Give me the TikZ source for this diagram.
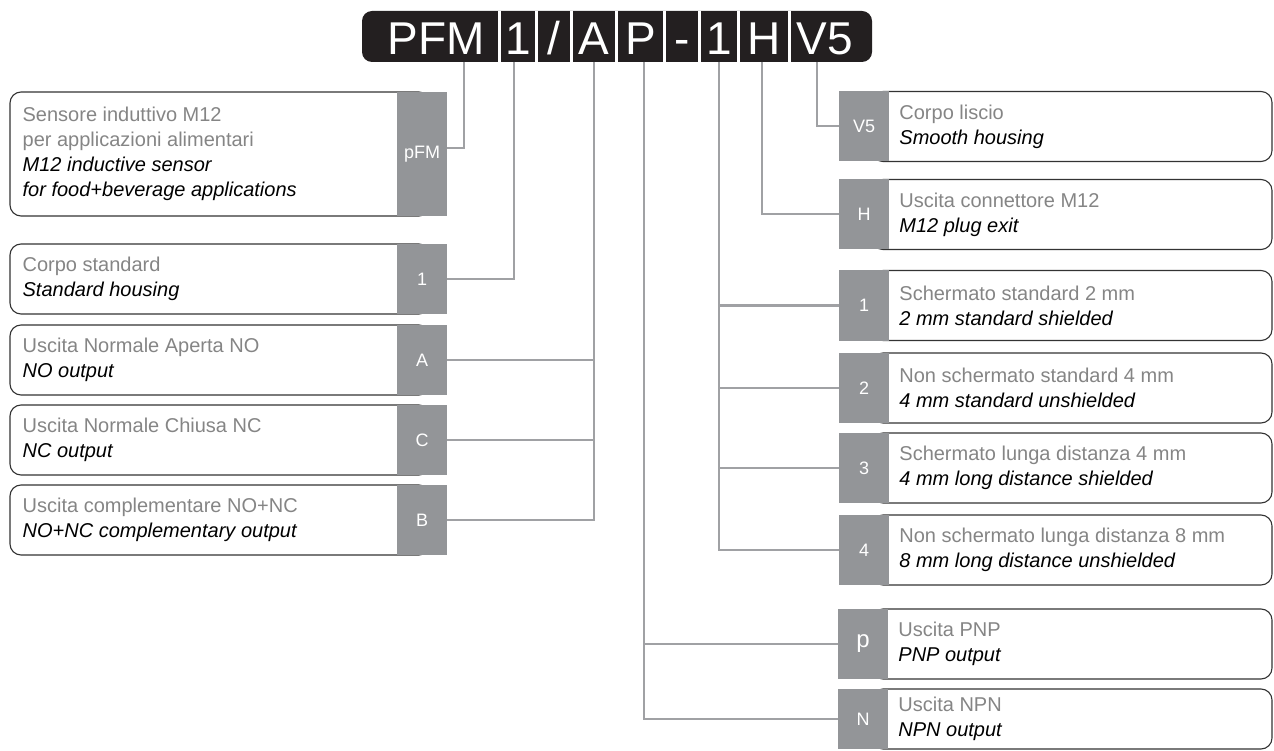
\documentclass[tikz,border=0pt]{standalone}
\usepackage{fontspec}
\setmainfont{Liberation Sans}
\usetikzlibrary{positioning}
\definecolor{tabgray}{HTML}{939598}
\definecolor{linegray}{HTML}{A0A1A4}
\definecolor{txtgray}{HTML}{858585}
\definecolor{codeblack}{HTML}{231F20}
\begin{document}
\begin{tikzpicture}
  [x=1pt,y=-1pt,
  code/.style={anchor=base,text=white,inner sep=0pt,font=\fontsize{46}{46}\selectfont},
  sep/.style={white,line width=2.5pt},
  lbox/.style={draw=black!80,line width=1.1pt,rounded corners=11pt,minimum width=420pt,minimum height=70pt,inner sep=0pt},
  rbox/.style={draw=black!80,line width=1.1pt,rounded corners=11pt,minimum width=400pt,minimum height=70pt,inner sep=0pt},
  tab/.style={fill=tabgray,text=white,minimum width=50pt,minimum height=70pt,inner sep=0pt,font=\fontsize{18}{18}\selectfont},
  desc/.style={align=left,inner sep=0pt,font=\fontsize{20}{25}\selectfont},
  conn/.style={linegray,line width=2pt}]

  \useasboundingbox (0,0) rectangle (1274,751);

  % code strip
  \node (code) [fill=codeblack,rounded corners=10pt,minimum width=510pt,minimum height=51pt,inner sep=0pt] at (617,36.5) {};
  \foreach \x in {499.5,536.5,571.5,616.5,664.5,699.5,738.5,789.5}
    \draw [sep] (\x,0 |- code.north) -- (\x,0 |- code.south);

  \node (hPFM) [code] at (436,55) {PFM};
  \node (hOne) [code] at (518,55) {1};
  \node (hSlash) [code] at (554,55) {/};
  \node (hA) [code] at (594,55) {A};
  \node (hP) [code] at (640.5,55) {P};
  \node (hDash) [code] at (682,55) {-};
  \node (hOneB) [code] at (719,55) {1};
  \node (hH) [code] at (764,55) {H};
  \node (hV) [code] at (825,55) {V5};

  \coordinate (cPFM) at (464,62);
  \coordinate (cOne) at (514,62);
  \coordinate (cA) at (594,62);
  \coordinate (cP) at (644,62);
  \coordinate (cOneB) at (719,62);
  \coordinate (cH) at (762,62);
  \coordinate (cV) at (817,62);

  % left column
  \node (lPFM) [lbox,minimum height=124pt] at (220,154) {};
  \node (tPFM) [tab,minimum height=124pt] at (422,154) {pFM};
  \node (dPFM) [desc,right=13pt of lPFM.west] {{\color{txtgray}Sensore induttivo M12}\\{\color{txtgray}per applicazioni alimentari}\\\textit{M12 inductive sensor}\\\textit{for food+beverage applications}};

  \node (lOne) [lbox] at (220,279) {};
  \node (tOne) [tab] at (422,279) {1};
  \node (dOne) [desc,right=13pt of lOne.west] {{\color{txtgray}Corpo standard}\\\textit{Standard housing}};

  \node (lA) [lbox] at (220,360) {};
  \node (tA) [tab] at (422,360) {A};
  \node (dA) [desc,right=13pt of lA.west] {{\color{txtgray}Uscita Normale Aperta NO}\\\textit{NO output}};

  \node (lC) [lbox] at (220,440) {};
  \node (tC) [tab] at (422,440) {C};
  \node (dC) [desc,right=13pt of lC.west] {{\color{txtgray}Uscita Normale Chiusa NC}\\\textit{NC output}};

  \node (lB) [lbox] at (220,520) {};
  \node (tB) [tab] at (422,520) {B};
  \node (dB) [desc,right=13pt of lB.west] {{\color{txtgray}Uscita complementare NO+NC}\\\textit{NO+NC complementary output}};

  % right column
  \node (rV) [rbox] at (1072,126.5) {};
  \node (tV) [tab] at (864,126.5) {V5};
  \node (dV) [desc,right=10pt of tV] {{\color{txtgray}Corpo liscio}\\\textit{Smooth housing}};

  \node (rH) [rbox] at (1072,214.5) {};
  \node (tH) [tab] at (864,214.5) {H};
  \node (dH) [desc,right=10pt of tH] {{\color{txtgray}Uscita connettore M12}\\\textit{M12 plug exit}};

  \node (rS1) [rbox] at (1072,305.5) {};
  \node (tS1) [tab] at (864,305.5) {1};
  \node (dS1) [desc,right=10pt of tS1] {{\color{txtgray}Schermato standard 2 mm}\\\textit{2 mm standard shielded}};

  \node (rS2) [rbox] at (1072,388) {};
  \node (tS2) [tab] at (864,388) {2};
  \node (dS2) [desc,right=10pt of tS2] {{\color{txtgray}Non schermato standard 4 mm}\\\textit{4 mm standard unshielded}};

  \node (rS3) [rbox] at (1072,468) {};
  \node (tS3) [tab] at (864,468) {3};
  \node (dS3) [desc,right=10pt of tS3] {{\color{txtgray}Schermato lunga distanza 4 mm}\\\textit{4 mm long distance shielded}};

  \node (rS4) [rbox] at (1072,550) {};
  \node (tS4) [tab] at (864,550) {4};
  \node (dS4) [desc,right=10pt of tS4] {{\color{txtgray}Non schermato lunga distanza 8 mm}\\\textit{8 mm long distance unshielded}};

  \node (rP) [rbox] at (1072,644) {};
  \node (tP) [tab,font=\fontsize{24}{24}\selectfont] at (863,644) {p};
  \node (dP) [desc,right=10pt of tP] {{\color{txtgray}Uscita PNP}\\\textit{PNP output}};

  \node (rN) [rbox,minimum height=60pt] at (1072,719) {};
  \node (tN) [tab,minimum height=60pt] at (863,719) {N};
  \node (dN) [desc,right=10pt of tN] {{\color{txtgray}Uscita NPN}\\\textit{NPN output}};

  % connectors
  \draw [conn] (cPFM) |- ([yshift=6pt]tPFM.east);
  \draw [conn] (cOne) |- (tOne.east);
  \draw [conn] (cA) |- (tB.east);
  \draw [conn] (tA.east) -- (tA.east -| cA);
  \draw [conn] (tC.east) -- (tC.east -| cA);
  \draw [conn] (cP) |- (tN.west);
  \draw [conn] (tP.west) -- (tP.west -| cP);
  \draw [conn] (cOneB) |- (tS4.west);
  \draw [conn] (tS1.west) -- (tS1.west -| cOneB);
  \draw [conn] (tS2.west) -- (tS2.west -| cOneB);
  \draw [conn] (tS3.west) -- (tS3.west -| cOneB);
  \draw [conn] (cH) |- (tH.west);
  \draw [conn] (cV) |- (tV.west);

\end{tikzpicture}
\end{document}
